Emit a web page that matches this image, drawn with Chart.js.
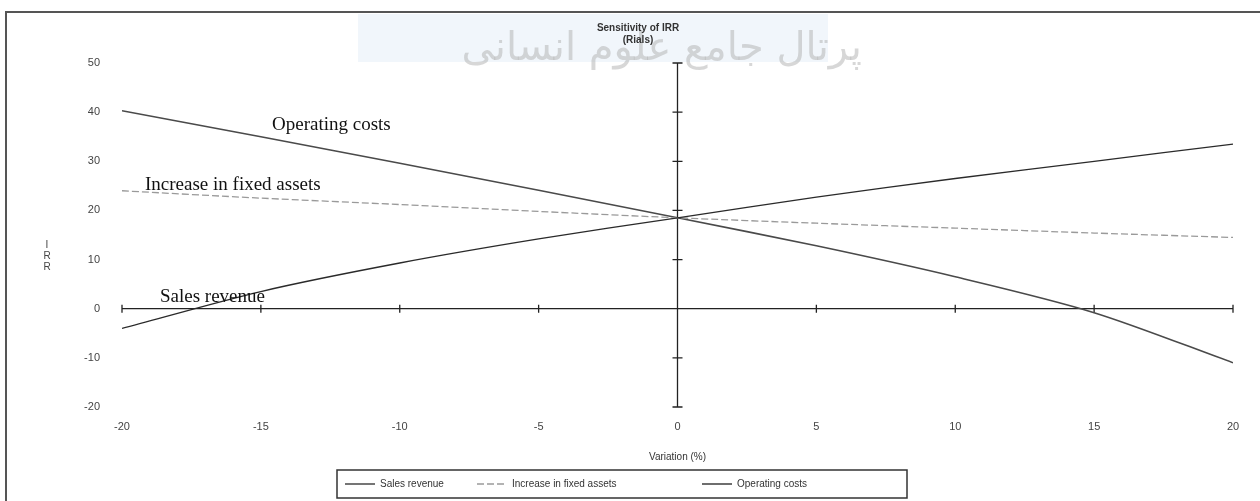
<!DOCTYPE html>
<html lang="en">
<head>
  <meta charset="UTF-8" />
  <title>Sensitivity of IRR</title>
  <style>
    * { box-sizing: border-box; margin: 0; padding: 0; }
    body { background: #fff; width: 1260px; height: 501px; overflow: hidden; }
    .wrap { position: relative; width: 1260px; height: 501px; }
  </style>
</head>
<body>
  <div class="wrap"><canvas id="irrChart"></canvas></div>

  <script src="https://cdn.jsdelivr.net/npm/chart.js"></script>
  <script>
// variation in %, IRR values
const variation = [-20, -15, -10, -5, 0, 5, 10, 15, 20];
const salesRevenue = [-4, 3.5, 9.3, 14.2, 18.5, 22.7, 26.5, 30, 33.5];
const fixedAssets = [24, 22.5, 21.2, 19.8, 18.5, 17.4, 16.4, 15.4, 14.5];
const operatingCosts = [40.3, 35, 29.6, 24.1, 18.5, 12.8, 6.5, -0.8, -11];
const seriesNames = ['Sales revenue', 'Increase in fixed assets', 'Operating costs'];
const yTicks = [-20, -10, 0, 10, 20, 30, 40, 50];
const xTicks = [-20, -15, -10, -5, 0, 5, 10, 15, 20];

const toPoints = vals => variation.map((x, i) => ({ x, y: vals[i] }));

const SANS = "'Liberation Sans', Arial, sans-serif";
const SERIF = "'Liberation Serif', 'Times New Roman', serif";

// frame, watermark band and title
const backdrop = {
  id: 'backdrop',
  beforeDraw(chart) {
    const ctx = chart.ctx;
    ctx.save();
    ctx.fillStyle = '#f1f6fb';
    ctx.fillRect(358, 14, 470, 48);
    ctx.fillStyle = 'rgba(175,175,175,0.5)';
    ctx.font = "40px 'DejaVu Sans', sans-serif";
    ctx.direction = 'rtl';
    ctx.textAlign = 'right';
    ctx.textBaseline = 'middle';
    ctx.fillText('پرتال جامع علوم انسانی', 862, 50);
    ctx.restore();

    ctx.save();
    ctx.strokeStyle = '#555';
    ctx.lineWidth = 2;
    ctx.beginPath();
    ctx.moveTo(6, 501);
    ctx.lineTo(6, 12);
    ctx.lineTo(1260, 12);
    ctx.stroke();
    ctx.fillStyle = '#333';
    ctx.font = 'bold 10px ' + SANS;
    ctx.textAlign = 'center';
    ctx.textBaseline = 'middle';
    ctx.fillText('Sensitivity of IRR', 638, 28);
    ctx.fillText('(Rials)', 638, 40);
    ctx.font = '10px ' + SANS;
    ctx.fillStyle = '#444';
    ['I', 'R', 'R'].forEach((c, i) => ctx.fillText(c, 47, 245 + i * 11));
    ctx.restore();
  }
};

// axes crossing at the origin, with tick marks
const crossAxes = {
  id: 'crossAxes',
  beforeDatasetsDraw(chart) {
    const { ctx, scales: { x, y } } = chart;
    const x0 = x.getPixelForValue(0);
    const y0 = y.getPixelForValue(0);
    ctx.save();
    ctx.strokeStyle = '#222';
    ctx.lineWidth = 1.3;
    ctx.beginPath();
    ctx.moveTo(x.getPixelForValue(-20), y0);
    ctx.lineTo(x.getPixelForValue(20), y0);
    ctx.moveTo(x0, y.getPixelForValue(50));
    ctx.lineTo(x0, y.getPixelForValue(-20));
    xTicks.forEach(v => {
      const px = x.getPixelForValue(v);
      ctx.moveTo(px, y0 - 4);
      ctx.lineTo(px, y0 + 4);
    });
    yTicks.forEach(v => {
      const py = y.getPixelForValue(v);
      ctx.moveTo(x0 - 5, py);
      ctx.lineTo(x0 + 5, py);
    });
    ctx.stroke();
    ctx.restore();
  },
  afterDatasetsDraw(chart) {
    const ctx = chart.ctx;
    ctx.save();
    ctx.fillStyle = '#111';
    ctx.font = '19px ' + SERIF;
    ctx.textBaseline = 'middle';
    ctx.fillText('Operating costs', 272, 125);
    ctx.fillText('Increase in fixed assets', 145, 185);
    ctx.fillText('Sales revenue', 160, 297);
    ctx.restore();
  }
};

// boxed legend under the axis title
const boxLegend = {
  id: 'boxLegend',
  afterDraw(chart) {
    const ctx = chart.ctx;
    const starts = [345, 477, 702];
    ctx.save();
    ctx.strokeStyle = '#333';
    ctx.lineWidth = 1.5;
    ctx.strokeRect(337, 470, 570, 28);
    ctx.font = '10px ' + SANS;
    ctx.textBaseline = 'middle';
    chart.data.datasets.forEach((ds, i) => {
      ctx.strokeStyle = ds.borderColor;
      ctx.lineWidth = ds.borderWidth;
      ctx.setLineDash(ds.borderDash || []);
      ctx.beginPath();
      ctx.moveTo(starts[i], 484);
      ctx.lineTo(starts[i] + 30, 484);
      ctx.stroke();
      ctx.setLineDash([]);
      ctx.fillStyle = '#333';
      ctx.fillText(ds.label, starts[i] + 35, 484);
    });
    ctx.restore();
  }
};

new Chart(document.getElementById('irrChart'), {
  type: 'line',
  data: {
    datasets: [
      { label: seriesNames[0], data: toPoints(salesRevenue), borderColor: '#2a2a2a', borderWidth: 1.3 },
      { label: seriesNames[1], data: toPoints(fixedAssets), borderColor: '#9a9a9a', borderWidth: 1.3, borderDash: [7, 3] },
      { label: seriesNames[2], data: toPoints(operatingCosts), borderColor: '#4a4a4a', borderWidth: 1.6 }
    ]
  },
  options: {
    responsive: true,
    maintainAspectRatio: false,
    animation: false,
    layout: { padding: { top: 63, right: 27, bottom: 0, left: 0 } },
    elements: { point: { radius: 0 }, line: { tension: 0.3 } },
    plugins: { legend: { display: false }, tooltip: { enabled: false } },
    scales: {
      x: {
        type: 'linear', min: -20, max: 20,
        afterFit: s => { s.height = 94; },
        afterBuildTicks: s => { s.ticks = xTicks.map(v => ({ value: v })); },
        grid: { display: false }, border: { display: false },
        ticks: { color: '#444', font: { family: SANS, size: 11 }, padding: 5, maxRotation: 0 },
        title: { display: true, text: 'Variation (%)', color: '#333', font: { family: SANS, size: 10 }, padding: { top: 0, bottom: 38 } }
      },
      y: {
        min: -20, max: 50,
        afterFit: s => { s.width = 122; },
        afterBuildTicks: s => { s.ticks = yTicks.map(v => ({ value: v })); },
        grid: { display: false }, border: { display: false },
        ticks: { color: '#444', font: { family: SANS, size: 11 }, padding: 14 }
      }
    }
  },
  plugins: [backdrop, crossAxes, boxLegend]
});
  </script>
</body>
</html>
